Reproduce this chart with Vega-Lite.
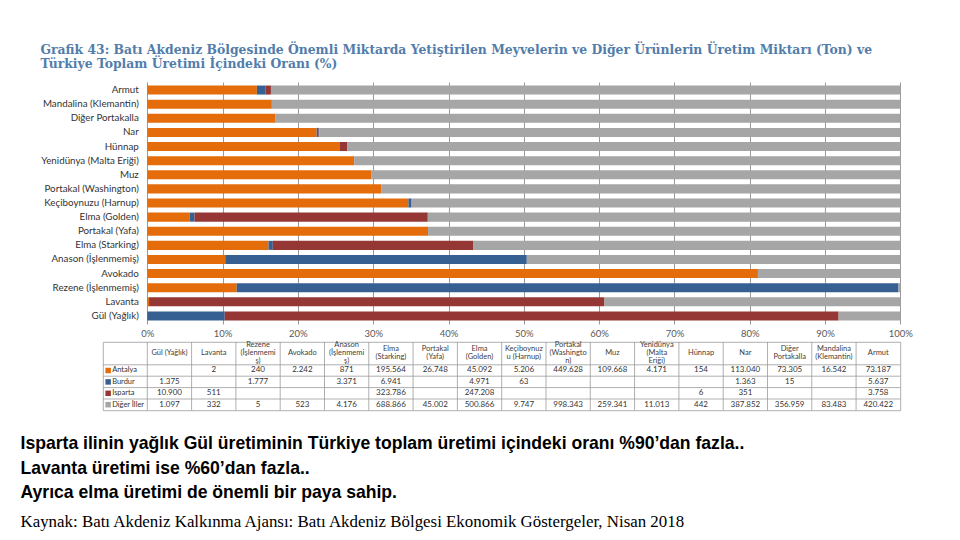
{
  "$schema": "https://vega.github.io/schema/vega-lite/v6.json",
  "padding": {"left": 20, "top": 44, "right": 10, "bottom": 5},
  "background": "white",
  "config": {
    "locale": {"number": {"decimal": ",", "thousands": ".", "grouping": [3], "currency": ["", ""]}},
    "view": {"stroke": null},
    "font": "Lato"
  },
  "title": {
    "text": ["Isparta ilinin yağlık Gül üretiminin Türkiye toplam üretimi içindeki oranı %90’dan fazla..", "Lavanta üretimi ise %60’dan fazla..", "Ayrıca elma üretimi de önemli bir paya sahip."],
    "subtitle": "Kaynak: Batı Akdeniz Kalkınma Ajansı: Batı Akdeniz Bölgesi Ekonomik Göstergeler, Nisan 2018",
    "orient": "bottom", "anchor": "start", "frame": "bounds", "dx": -20,
    "font": "Liberation Sans", "fontSize": 17.6, "fontWeight": "bold", "color": "#000000", "lineHeight": 24.5, "offset": 24,
    "subtitleFont": "Liberation Serif", "subtitleFontSize": 16.9, "subtitleColor": "#000000", "subtitlePadding": 12
  },
  "datasets": {
    "prod": [
      {"urun": "Gül (Yağlık)", "bolge": "Burdur", "ton": 1375},
      {"urun": "Gül (Yağlık)", "bolge": "Isparta", "ton": 10900},
      {"urun": "Gül (Yağlık)", "bolge": "Diğer İller", "ton": 1097},
      {"urun": "Lavanta", "bolge": "Antalya", "ton": 2},
      {"urun": "Lavanta", "bolge": "Isparta", "ton": 511},
      {"urun": "Lavanta", "bolge": "Diğer İller", "ton": 332},
      {"urun": "Rezene (İşlenmemiş)", "bolge": "Antalya", "ton": 240},
      {"urun": "Rezene (İşlenmemiş)", "bolge": "Burdur", "ton": 1777},
      {"urun": "Rezene (İşlenmemiş)", "bolge": "Diğer İller", "ton": 5},
      {"urun": "Avokado", "bolge": "Antalya", "ton": 2242},
      {"urun": "Avokado", "bolge": "Diğer İller", "ton": 523},
      {"urun": "Anason (İşlenmemiş)", "bolge": "Antalya", "ton": 871},
      {"urun": "Anason (İşlenmemiş)", "bolge": "Burdur", "ton": 3371},
      {"urun": "Anason (İşlenmemiş)", "bolge": "Diğer İller", "ton": 4176},
      {"urun": "Elma (Starking)", "bolge": "Antalya", "ton": 195564},
      {"urun": "Elma (Starking)", "bolge": "Burdur", "ton": 6941},
      {"urun": "Elma (Starking)", "bolge": "Isparta", "ton": 323786},
      {"urun": "Elma (Starking)", "bolge": "Diğer İller", "ton": 688866},
      {"urun": "Portakal (Yafa)", "bolge": "Antalya", "ton": 26748},
      {"urun": "Portakal (Yafa)", "bolge": "Diğer İller", "ton": 45002},
      {"urun": "Elma (Golden)", "bolge": "Antalya", "ton": 45092},
      {"urun": "Elma (Golden)", "bolge": "Burdur", "ton": 4971},
      {"urun": "Elma (Golden)", "bolge": "Isparta", "ton": 247208},
      {"urun": "Elma (Golden)", "bolge": "Diğer İller", "ton": 500866},
      {"urun": "Keçiboynuzu (Harnup)", "bolge": "Antalya", "ton": 5206},
      {"urun": "Keçiboynuzu (Harnup)", "bolge": "Burdur", "ton": 63},
      {"urun": "Keçiboynuzu (Harnup)", "bolge": "Diğer İller", "ton": 9747},
      {"urun": "Portakal (Washington)", "bolge": "Antalya", "ton": 449628},
      {"urun": "Portakal (Washington)", "bolge": "Diğer İller", "ton": 998343},
      {"urun": "Muz", "bolge": "Antalya", "ton": 109668},
      {"urun": "Muz", "bolge": "Diğer İller", "ton": 259341},
      {"urun": "Yenidünya (Malta Eriği)", "bolge": "Antalya", "ton": 4171},
      {"urun": "Yenidünya (Malta Eriği)", "bolge": "Diğer İller", "ton": 11013},
      {"urun": "Hünnap", "bolge": "Antalya", "ton": 154},
      {"urun": "Hünnap", "bolge": "Isparta", "ton": 6},
      {"urun": "Hünnap", "bolge": "Diğer İller", "ton": 442},
      {"urun": "Nar", "bolge": "Antalya", "ton": 113040},
      {"urun": "Nar", "bolge": "Burdur", "ton": 1363},
      {"urun": "Nar", "bolge": "Isparta", "ton": 351},
      {"urun": "Nar", "bolge": "Diğer İller", "ton": 387852},
      {"urun": "Diğer Portakalla", "bolge": "Antalya", "ton": 73305},
      {"urun": "Diğer Portakalla", "bolge": "Burdur", "ton": 15},
      {"urun": "Diğer Portakalla", "bolge": "Diğer İller", "ton": 356959},
      {"urun": "Mandalina (Klemantin)", "bolge": "Antalya", "ton": 16542},
      {"urun": "Mandalina (Klemantin)", "bolge": "Diğer İller", "ton": 83483},
      {"urun": "Armut", "bolge": "Antalya", "ton": 73187},
      {"urun": "Armut", "bolge": "Burdur", "ton": 5637},
      {"urun": "Armut", "bolge": "Isparta", "ton": 3758},
      {"urun": "Armut", "bolge": "Diğer İller", "ton": 420422}
    ],
    "hdr": [
      {"urun": "Gül (Yağlık)", "baslik": "Gül (Yağlık)"},
      {"urun": "Lavanta", "baslik": "Lavanta"},
      {"urun": "Rezene (İşlenmemiş)", "baslik": "Rezene|(İşlenmemi|ş)"},
      {"urun": "Avokado", "baslik": "Avokado"},
      {"urun": "Anason (İşlenmemiş)", "baslik": "Anason|(İşlenmemi|ş)"},
      {"urun": "Elma (Starking)", "baslik": "Elma|(Starking)"},
      {"urun": "Portakal (Yafa)", "baslik": "Portakal|(Yafa)"},
      {"urun": "Elma (Golden)", "baslik": "Elma|(Golden)"},
      {"urun": "Keçiboynuzu (Harnup)", "baslik": "Keçiboynuz|u (Harnup)"},
      {"urun": "Portakal (Washington)", "baslik": "Portakal|(Washingto|n)"},
      {"urun": "Muz", "baslik": "Muz"},
      {"urun": "Yenidünya (Malta Eriği)", "baslik": "Yenidünya|(Malta|Eriği)"},
      {"urun": "Hünnap", "baslik": "Hünnap"},
      {"urun": "Nar", "baslik": "Nar"},
      {"urun": "Diğer Portakalla", "baslik": "Diğer|Portakalla"},
      {"urun": "Mandalina (Klemantin)", "baslik": "Mandalina|(Klemantin)"},
      {"urun": "Armut", "baslik": "Armut"}
    ],
    "ser": [
      {"bolge": "Antalya"},
      {"bolge": "Burdur"},
      {"bolge": "Isparta"},
      {"bolge": "Diğer İller"}
    ]
  },
  "spacing": 2,
  "vconcat": [
    {
      "width": 797.4,
      "height": 242,
      "data": {"name": "prod"},
      "title": {
        "text": ["Grafik 43: Batı Akdeniz Bölgesinde Önemli Miktarda Yetiştirilen Meyvelerin ve Diğer Ürünlerin Üretim Miktarı (Ton) ve", "Türkiye Toplam Üretimi İçindeki Oranı (%)"],
        "anchor": "start", "frame": "bounds", "font": "DejaVu Serif", "fontSize": 12.4, "fontWeight": "bold", "color": "#527dab", "lineHeight": 13.5, "offset": 12
      },
      "transform": [
        {"calculate": "indexof(['Antalya','Burdur','Isparta','Diğer İller'], datum.bolge)", "as": "sira"}
      ],
      "mark": {"type": "bar"},
      "encoding": {
        "y": {
          "field": "urun", "type": "nominal",
          "sort": ["Armut", "Mandalina (Klemantin)", "Diğer Portakalla", "Nar", "Hünnap", "Yenidünya (Malta Eriği)", "Muz", "Portakal (Washington)", "Keçiboynuzu (Harnup)", "Elma (Golden)", "Portakal (Yafa)", "Elma (Starking)", "Anason (İşlenmemiş)", "Avokado", "Rezene (İşlenmemiş)", "Lavanta", "Gül (Yağlık)"],
          "scale": {"paddingInner": 0.36, "paddingOuter": 0.25},
          "axis": {"title": null, "offset": -44.3, "ticks": false, "domain": false, "labelPadding": 9, "labelFont": "Lato", "labelFontSize": 9.8, "labelColor": "#333333", "labelLimit": 200}
        },
        "x": {
          "field": "ton", "type": "quantitative", "stack": "normalize",
          "scale": {"domain": [-0.058824, 1], "nice": false, "zero": false},
          "axis": {"title": null, "values": [0, 0.1, 0.2, 0.3, 0.4, 0.5, 0.6, 0.7, 0.8, 0.9, 1], "format": ".0%", "grid": true, "gridColor": "#7f7f7f", "gridWidth": 0.8, "domain": false, "ticks": false, "labelFontSize": 9.5, "labelColor": "#595959", "labelPadding": 5, "labelFlush": false}
        },
        "color": {
          "field": "bolge", "type": "nominal",
          "scale": {"domain": ["Antalya", "Burdur", "Isparta", "Diğer İller"], "range": ["#E46C0A", "#376092", "#953735", "#A6A6A6"]},
          "legend": null
        },
        "order": {"field": "sira", "type": "quantitative"}
      }
    },
    {
      "width": 797.4,
      "height": 68.4,
      "view": {"stroke": "#9a9a9a", "strokeWidth": 0.8},
      "encoding": {
        "x": {"type": "nominal", "scale": {"domain": ["lgd", "Gül (Yağlık)", "Lavanta", "Rezene (İşlenmemiş)", "Avokado", "Anason (İşlenmemiş)", "Elma (Starking)", "Portakal (Yafa)", "Elma (Golden)", "Keçiboynuzu (Harnup)", "Portakal (Washington)", "Muz", "Yenidünya (Malta Eriği)", "Hünnap", "Nar", "Diğer Portakalla", "Mandalina (Klemantin)", "Armut"], "paddingInner": 0, "paddingOuter": 0}, "axis": null},
        "y": {"type": "nominal", "scale": {"domain": ["h1", "h2", "Antalya", "Burdur", "Isparta", "Diğer İller"], "paddingInner": 0, "paddingOuter": 0}, "axis": null}
      },
      "layer": [
        {
          "data": {"name": "hdr"},
          "mark": {"type": "rule", "color": "#9a9a9a", "strokeWidth": 0.8},
          "encoding": {"x": {"field": "urun", "type": "nominal", "bandPosition": 0}, "y": null}
        },
        {
          "data": {"name": "ser"},
          "mark": {"type": "rule", "color": "#9a9a9a", "strokeWidth": 0.8},
          "encoding": {"y": {"field": "bolge", "type": "nominal", "bandPosition": 0}, "x": null}
        },
        {
          "data": {"name": "hdr"},
          "transform": [{"filter": "length(split(datum.baslik, '|')) == 1"}],
          "mark": {"type": "text", "lineBreak": "|", "fontSize": 7.5, "lineHeight": 8, "baseline": "middle", "color": "#404040"},
          "encoding": {
            "x": {"field": "urun", "type": "nominal"},
            "y": {"datum": "h2", "type": "nominal", "bandPosition": 0},
            "text": {"field": "baslik"}
          }
        },
        {
          "data": {"name": "hdr"},
          "transform": [{"filter": "length(split(datum.baslik, '|')) == 2"}],
          "mark": {"type": "text", "lineBreak": "|", "fontSize": 7.5, "lineHeight": 8, "baseline": "middle", "dy": -4, "color": "#404040"},
          "encoding": {
            "x": {"field": "urun", "type": "nominal"},
            "y": {"datum": "h2", "type": "nominal", "bandPosition": 0},
            "text": {"field": "baslik"}
          }
        },
        {
          "data": {"name": "hdr"},
          "transform": [{"filter": "length(split(datum.baslik, '|')) == 3"}],
          "mark": {"type": "text", "lineBreak": "|", "fontSize": 7.5, "lineHeight": 8, "baseline": "middle", "dy": -8, "color": "#404040"},
          "encoding": {
            "x": {"field": "urun", "type": "nominal"},
            "y": {"datum": "h2", "type": "nominal", "bandPosition": 0},
            "text": {"field": "baslik"}
          }
        },
        {
          "data": {"name": "prod"},
          "mark": {"type": "text", "fontSize": 8, "color": "#333333"},
          "encoding": {
            "x": {"field": "urun", "type": "nominal"},
            "y": {"field": "bolge", "type": "nominal"},
            "text": {"field": "ton", "type": "quantitative", "format": ",.0f"}
          }
        },
        {
          "data": {"name": "ser"},
          "mark": {"type": "square", "size": 30, "opacity": 1, "xOffset": -17},
          "encoding": {
            "x": {"datum": "lgd", "type": "nominal"},
            "y": {"field": "bolge", "type": "nominal"},
            "color": {"field": "bolge", "type": "nominal", "scale": {"domain": ["Antalya", "Burdur", "Isparta", "Diğer İller"], "range": ["#E46C0A", "#376092", "#953735", "#A6A6A6"]}, "legend": null}
          }
        },
        {
          "data": {"name": "ser"},
          "mark": {"type": "text", "align": "left", "xOffset": -13, "fontSize": 7.5, "color": "#333333"},
          "encoding": {
            "x": {"datum": "lgd", "type": "nominal"},
            "y": {"field": "bolge", "type": "nominal"},
            "text": {"field": "bolge"}
          }
        }
      ]
    }
  ]
}
